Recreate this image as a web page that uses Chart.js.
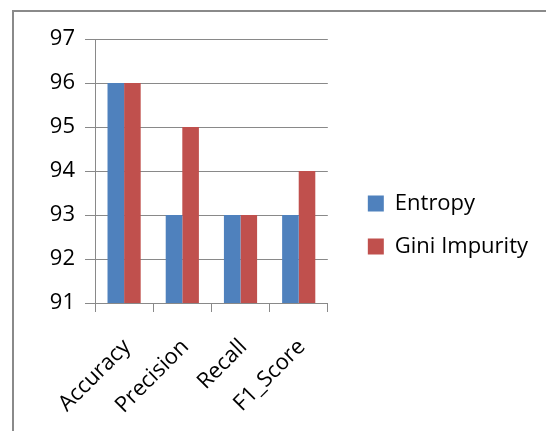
<!DOCTYPE html>
<html>
<head>
<meta charset="utf-8">
<title>Entropy vs Gini Impurity</title>
<script src="https://cdn.jsdelivr.net/npm/chart.js@4.4.1/dist/chart.umd.min.js"></script>
<style>
	html, body { margin: 0; padding: 0; background: #fff; overflow: hidden; }
	.frame { position: absolute; left: 12px; top: 10px; width: 600px; height: 460px; border: 2px solid #8a8a8a; }
	.wrap { position: absolute; left: 0; top: 0; width: 546px; height: 431px; }
</style>
</head>
<body>
<div class="frame"></div>
<div class="wrap"><canvas id="chart" width="546" height="431"></canvas></div>
<script>
	const categories = [ 'Accuracy', 'Precision', 'Recall', 'F1_Score' ];
	const entropy = [ 96, 93, 93, 93 ];
	const gini = [ 96, 95, 93, 94 ];
	const yTicks = { min: 91, max: 97, step: 1 };

	const GRID = '#898989';
	const FONT = '"Open Sans", "DejaVu Sans", sans-serif';

	// place the legend a little right of the plot area and lift it a bit
	const legendGap = {
		id: 'legendGap',
		afterLayout( chart ) {
			const lg = chart.legend;
			const w = lg.width;
			lg.left = chart.chartArea.right + 19;
			lg.right = lg.left + w;
			lg.top -= 10;
			lg.bottom -= 10;
		},
	};

	new Chart( document.getElementById( 'chart' ), {
		type: 'bar',
		data: {
			labels: categories,
			datasets: [
				{ label: 'Entropy', data: entropy, backgroundColor: '#4F81BD' },
				{ label: 'Gini Impurity', data: gini, backgroundColor: '#C0504D' },
			],
		},
		options: {
			responsive: false,
			animation: false,
			devicePixelRatio: 1,
			layout: { padding: { top: 39, right: 27, bottom: 0, left: 0 } },
			datasets: { bar: { categoryPercentage: 0.57, barPercentage: 1.0 } },
			plugins: {
				tooltip: { enabled: false },
				legend: {
					position: 'right',
					maxWidth: 260,
					labels: {
						boxWidth: 16,
						boxHeight: 16,
						padding: 21,
						color: '#000',
						font: { family: FONT, size: 22 },
					},
				},
			},
			scales: {
				x: {
					grid: { drawOnChartArea: false, drawTicks: true, tickLength: 9, color: GRID, offset: true },
					border: { color: GRID, width: 1 },
					ticks: { color: '#000', font: { family: FONT, size: 22 }, minRotation: 45, maxRotation: 45, padding: 22, labelOffset: 3, autoSkip: false },
					afterFit( scale ) { scale.height = 128; },
				},
				y: {
					min: yTicks.min,
					max: yTicks.max,
					grid: { color: GRID, tickLength: 10, drawTicks: true },
					border: { color: GRID, width: 1 },
					ticks: { stepSize: yTicks.step, color: '#000', font: { family: FONT, size: 22 }, padding: 10 },
					afterFit( scale ) { scale.width = 95; },
				},
			},
		},
		plugins: [ legendGap ],
	} );
</script>
</body>
</html>
